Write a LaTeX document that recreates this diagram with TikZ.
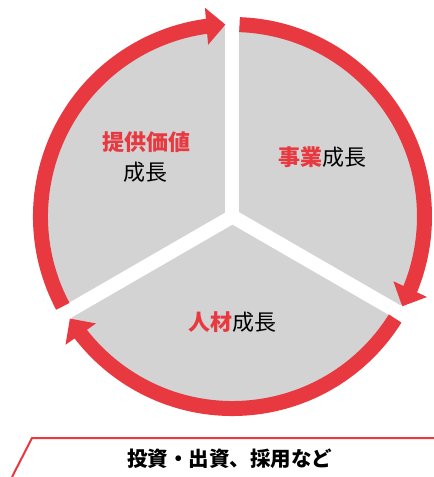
\documentclass[tikz,border=0pt]{standalone}
\usepackage{fontspec}
\newfontfamily\jp{Noto Sans CJK JP}
\usetikzlibrary{arrows.meta,bending}
\definecolor{ringred}{RGB}{232,56,64}
\definecolor{discgray}{RGB}{211,211,211}
\tikzset{
  ringarc/.style={draw=ringred, line width=15pt},
  ringarrow/.style={ringarc, -{Triangle[width=36pt,length=19pt]}},
  gapline/.style={draw=white, line width=14pt, line cap=round},
  lbl/.style={inner sep=0pt, font=\jp\fontsize{22}{26}\selectfont},
}
\begin{document}
\begin{tikzpicture}[x=1pt,y=1pt]
\useasboundingbox (-232.5,216.5) rectangle (201.5,-260.5);
\coordinate (c) at (0,0);
\fill[discgray] (c) circle[radius=190pt];
\coordinate (g1) at (90:200pt);
\coordinate (g2) at (-30:200pt);
\coordinate (g3) at (210:200pt);
\draw[gapline] (c) -- (g1);
\draw[gapline] (c) -- (g2);
\draw[gapline] (c) -- (g3);
\draw[ringarrow] (87.9:192pt) arc[start angle=87.9, end angle=-27.9, radius=192pt];
\draw[ringarrow] (-32.1:192pt) arc[start angle=-32.1, end angle=-147.9, radius=192pt];
\draw[ringarrow] (207.9:192pt) arc[start angle=207.9, end angle=92.1, radius=192pt];
\node[lbl, text=ringred, font=\jp\bfseries\fontsize{22}{26}\selectfont] (v1) at (-85.5,74.5) {提供価値};
\node[lbl] (v2) at (-86.5,44.5) {成長};
\node[lbl] (b1) at (90.5,59.5) {\textcolor{ringred}{\bfseries 事業}成長};
\node[lbl] (h1) at (0,-105.5) {\textcolor{ringred}{\bfseries 人材}成長};
\coordinate (l1) at (-220.5,-260.5);
\coordinate (l2) at (-200.5,-221.5);
\coordinate (l3) at (201.5,-221.5);
\draw[ringred, line width=2pt] (l1) -- (l2) -- (l3);
\node[inner sep=0pt, font=\jp\bfseries\fontsize{20.5}{24}\selectfont] (inv) at (-2.5,-242.5) {投資・出資、採用など};
\end{tikzpicture}
\end{document}
